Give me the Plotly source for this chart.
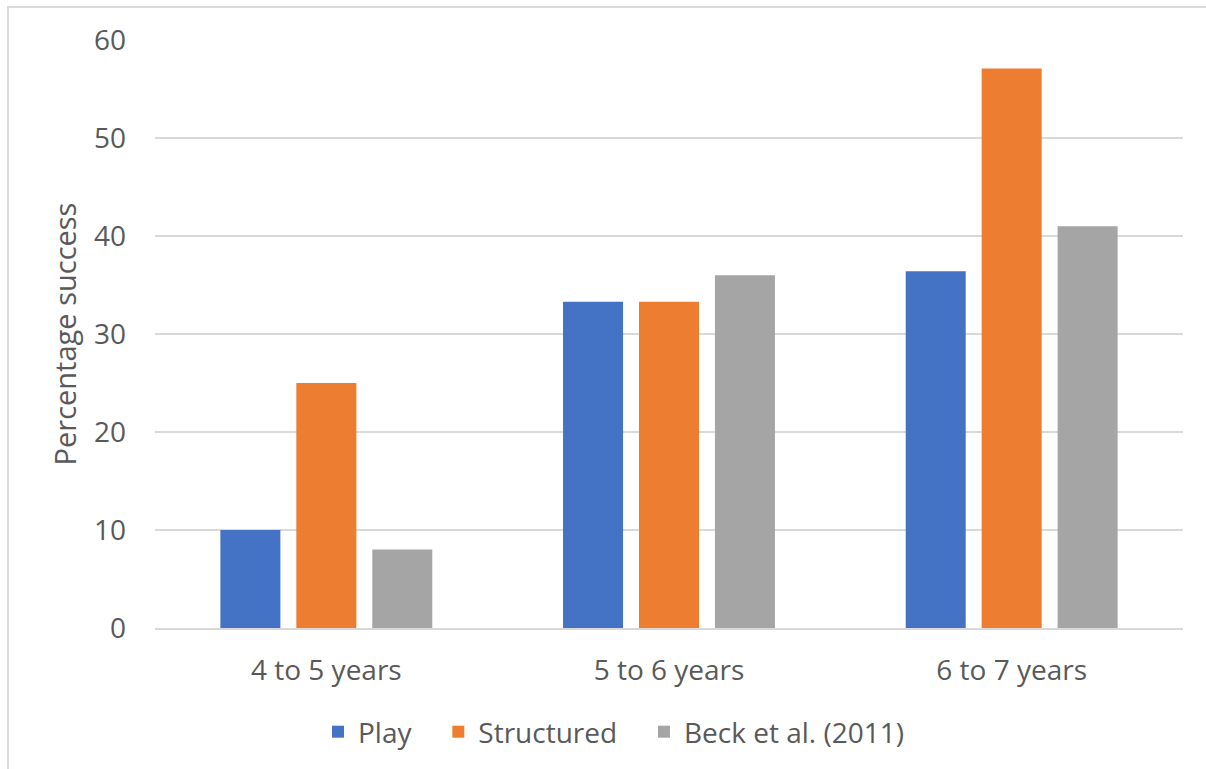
import plotly.graph_objects as go

categories = ["4 to 5 years", "5 to 6 years", "6 to 7 years"]
play = [10, 33.3, 36.4]
structured = [25, 33.3, 57.1]
beck = [8, 36, 41]
series_names = ["Play\u00a0\u00a0\u00a0", "Structured\u00a0\u00a0\u00a0", "Beck et al. (2011)"]
colors = ["#4472C4", "#ED7D31", "#A5A5A5"]
y_ticks = [0, 10, 20, 30, 40, 50, 60]

FONT = "Open Sans"
TXT = "#595959"

fig = go.Figure()
for name, vals, col in zip(series_names, [play, structured, beck], colors):
    fig.add_trace(go.Bar(x=categories, y=vals, name=name, marker=dict(color=col, line=dict(width=0))))

W, H = 1206, 769
L, R, T, B = 155, 23, 40, 141
pw, ph = W - L - R, H - T - B

def px_x(p):
    return (p - L) / pw

def px_y(p):
    return (H - B - p) / ph

fig.update_layout(
    width=W, height=H,
    margin=dict(l=L, r=R, t=T, b=B),
    paper_bgcolor="white", plot_bgcolor="white",
    barmode="group", bargap=0.335, bargroupgap=0.21,
    font=dict(family=FONT, color=TXT, size=28),
    showlegend=True,
    legend=dict(orientation="h", x=px_x(318), xanchor="left", y=px_y(732), yanchor="middle",
                font=dict(size=28, color=TXT), itemwidth=30, traceorder="normal"),
    xaxis=dict(showgrid=False, showline=True, linecolor="#D9D9D9", linewidth=2,
               ticks="", tickfont=dict(size=28, color=TXT), ticklabelstandoff=16),
    yaxis=dict(range=[0, 60], tickvals=y_ticks, showgrid=True, gridcolor="#D9D9D9", gridwidth=1.5,
               zeroline=False, showline=False, ticks="", tickfont=dict(size=28, color=TXT),
               ticklabelstandoff=28,
               title=dict(text="Percentage success", font=dict(size=29, color=TXT), standoff=8)),
    shapes=[dict(type="rect", xref="paper", yref="paper",
                 x0=px_x(8), x1=px_x(W + 20), y0=px_y(H + 20), y1=px_y(7),
                 line=dict(color="#D9D9D9", width=2), fillcolor="rgba(0,0,0,0)", layer="below")],
)

fig.write_html("out.html")
